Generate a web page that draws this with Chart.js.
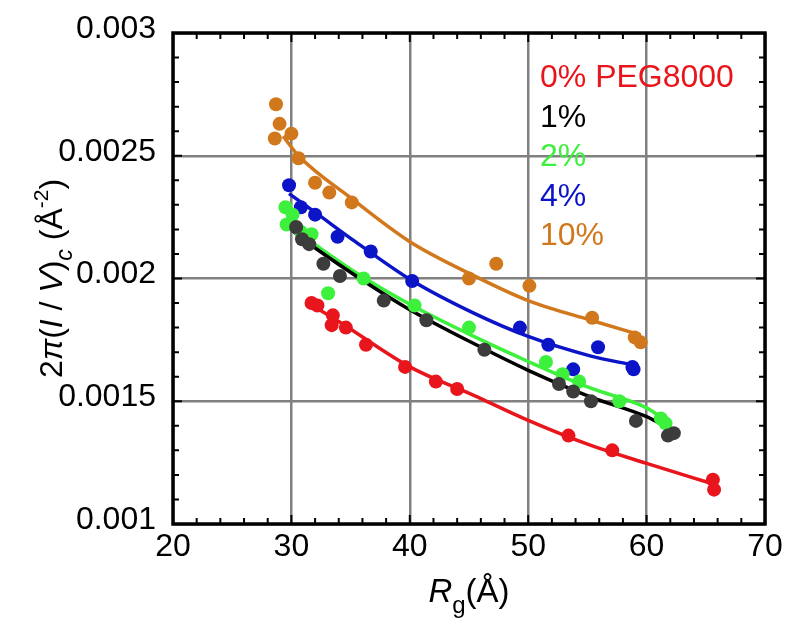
<!DOCTYPE html>
<html>
<head>
<meta charset="utf-8">
<script src="https://cdn.jsdelivr.net/npm/chart.js@4"></script>
<style>
  html, body { margin: 0; padding: 0; background: #fff; }
  #wrap { width: 800px; height: 641px; position: relative; }
</style>
</head>
<body>
<div id="wrap"><canvas id="chart"></canvas></div>
<script>
// Pontos medidos (Rg em Å, 2π(I/V)c em Å^-2)
const rg0 = [31.7, 32.2, 33.5, 33.4, 34.6, 36.3, 39.6, 42.2, 44.0, 53.4, 57.1, 65.6, 65.7];
const val0 = [0.00190, 0.00189, 0.00185, 0.00181, 0.00180, 0.00173, 0.00164, 0.00158, 0.00155, 0.00136, 0.00130, 0.00118, 0.00114];
const rg1 = [30.4, 30.9, 31.5, 32.7, 34.1, 37.8, 41.4, 46.3, 52.6, 53.8, 55.3, 59.1, 61.8, 62.3];
const val1 = [0.00221, 0.00216, 0.00214, 0.00206, 0.00201, 0.00191, 0.00183, 0.00171, 0.00157, 0.00154, 0.00150, 0.00142, 0.00136, 0.00137];
const rg2 = [29.5, 29.6, 30.1, 30.8, 31.7, 33.1, 36.1, 40.4, 45.0, 51.5, 52.9, 54.3, 57.7, 61.2, 61.6];
const val2 = [0.00229, 0.00222, 0.00226, 0.00219, 0.00218, 0.00194, 0.00200, 0.00189, 0.00180, 0.00166, 0.00161, 0.00158, 0.00150, 0.00143, 0.00141];
const rg4 = [29.8, 30.8, 32.0, 33.9, 36.7, 40.2, 49.3, 51.7, 55.9, 53.8, 58.8, 58.9];
const val4 = [0.00238, 0.00229, 0.00226, 0.00217, 0.00211, 0.00199, 0.00180, 0.00173, 0.00172, 0.00163, 0.00164, 0.00163];
const rg10 = [28.7, 29.0, 28.6, 30.0, 30.6, 32.0, 33.2, 35.1, 45.0, 47.3, 50.1, 55.4, 59.0, 59.5];
const val10 = [0.00271, 0.00263, 0.00257, 0.00259, 0.00249, 0.00239, 0.00235, 0.00231, 0.00200, 0.00206, 0.00197, 0.00184, 0.00176, 0.00174];

// Curvas ajustadas
const fitRg0 = [31.6, 34.1, 40.0, 45.4, 50.0, 55.3, 60.0, 65.5];
const fitVal0 = [0.001895, 0.001822, 0.001640, 0.001524, 0.001422, 0.001320, 0.001247, 0.001165];
const fitRg1 = [30.1, 32.1, 36.1, 40.0, 45.4, 50.0, 55.3, 60.0, 62.0];
const fitVal1 = [0.002194, 0.002121, 0.001990, 0.001873, 0.001735, 0.001626, 0.001517, 0.001437, 0.001386];
const fitRg2 = [30.1, 32.1, 36.1, 40.0, 45.4, 50.0, 55.3, 60.0, 62.0];
const fitVal2 = [0.002208, 0.002135, 0.002004, 0.001895, 0.001764, 0.001662, 0.001553, 0.001473, 0.001408];
const fitRg4 = [29.8, 32.1, 35.4, 40.0, 45.4, 50.0, 55.3, 58.8];
const fitVal4 = [0.002346, 0.002266, 0.002150, 0.001997, 0.001859, 0.001764, 0.001684, 0.001648];
const fitRg10 = [29.3, 30.6, 35.1, 40.0, 45.4, 50.0, 55.3, 59.5];
const fitVal10 = [0.002580, 0.002500, 0.002325, 0.002150, 0.002012, 0.001910, 0.001830, 0.001770];

const xTicks = [20, 30, 40, 50, 60, 70];
const yTicks = [0.001, 0.0015, 0.002, 0.0025, 0.003];
const yTickLabels = ['0.001', '0.0015', '0.002', '0.0025', '0.003'];

const seriesNames = ['0% PEG8000', '1%', '2%', '4%', '10%'];
const lineColors = ['#e8161c', '#000000', '#3cf03c', '#0c14c8', '#d2781c'];
const pointColors = ['#e8161c', '#3c3c3c', '#3cf03c', '#0c14c8', '#d2781c'];

const pts = (xs, ys) => xs.map((x, i) => ({ x: x, y: ys[i] }));

const rawSets = [[rg0, val0, fitRg0, fitVal0], [rg1, val1, fitRg1, fitVal1], [rg2, val2, fitRg2, fitVal2],
                 [rg4, val4, fitRg4, fitVal4], [rg10, val10, fitRg10, fitVal10]];

const datasets = [];
rawSets.forEach((s, i) => {
    datasets.push({
        label: seriesNames[i] + ' fit',
        data: pts(s[2], s[3]),
        showLine: true,
        borderColor: lineColors[i],
        borderWidth: 3.5,
        pointRadius: 0,
        cubicInterpolationMode: 'monotone',
        order: 2
    });
    datasets.push({
        label: seriesNames[i],
        data: pts(s[0], s[1]),
        showLine: false,
        backgroundColor: pointColors[i],
        borderWidth: 0,
        pointRadius: 7,
        order: 1
    });
});

const FONT = '"Liberation Sans", Arial, sans-serif';

// Desenha moldura, ticks internos, títulos dos eixos e legenda em texto colorido
const decorPlugin = {
    id: 'decor',
    afterDraw(chart) {
        const ctx = chart.ctx;
        const a = chart.chartArea;
        const xs = chart.scales.x, ys = chart.scales.y;
        ctx.save();
        ctx.strokeStyle = '#000';
        ctx.lineWidth = 2;
        // ticks menores e maiores nos quatro lados
        ctx.beginPath();
        for (let v = 20; v <= 70; v += 2) {
            const px = xs.getPixelForValue(v);
            const len = (v % 10 === 0) ? 9 : 6;
            ctx.moveTo(px, a.bottom); ctx.lineTo(px, a.bottom - len);
            ctx.moveTo(px, a.top); ctx.lineTo(px, a.top + len);
        }
        for (let k = 10; k <= 30; k++) {
            const py = ys.getPixelForValue(k / 10000);
            const len = (k % 5 === 0) ? 9 : 6;
            ctx.moveTo(a.left, py); ctx.lineTo(a.left + len, py);
            ctx.moveTo(a.right, py); ctx.lineTo(a.right - len, py);
        }
        ctx.stroke();
        // moldura
        ctx.lineWidth = 3.5;
        ctx.strokeRect(a.left, a.top, a.right - a.left, a.bottom - a.top);

        const font = (sz, it) => (it ? 'italic ' : '') + sz + 'px ' + FONT;
        function drawParts(parts, x, y, align) {
            let total = 0;
            parts.forEach(p => { ctx.font = font(p.s, p.i); total += ctx.measureText(p.t).width; });
            let cx = align === 'center' ? x - total / 2 : x;
            parts.forEach(p => {
                ctx.font = font(p.s, p.i);
                ctx.fillText(p.t, cx, y + (p.dy || 0));
                cx += ctx.measureText(p.t).width;
            });
        }
        ctx.fillStyle = '#000';
        ctx.textBaseline = 'alphabetic';
        ctx.textAlign = 'left';
        // título do eixo x
        drawParts([
            { t: 'R', s: 33, i: true },
            { t: 'g', s: 24, dy: 11 },
            { t: '(Å)', s: 33 }
        ], (a.left + a.right) / 2, 602, 'center');
        // título do eixo y
        ctx.save();
        ctx.translate(62, (a.top + a.bottom) / 2);
        ctx.rotate(-Math.PI / 2);
        drawParts([
            { t: '2', s: 32 },
            { t: 'π', s: 32, i: true },
            { t: '(', s: 32 },
            { t: 'I', s: 32, i: true },
            { t: ' / ', s: 32 },
            { t: 'V', s: 32, i: true },
            { t: ')', s: 32 },
            { t: 'c', s: 23, i: true, dy: 10 },
            { t: ' (Å', s: 32 },
            { t: '-2', s: 21, dy: -14 },
            { t: ')', s: 32 }
        ], 0, 0, 'center');
        ctx.restore();
        // legenda
        ctx.font = font(32, false);
        seriesNames.forEach((name, i) => {
            ctx.fillStyle = lineColors[i];
            ctx.fillText(name, 540, 87 + i * 39.5);
        });
        ctx.restore();
    }
};

new Chart(document.getElementById('chart'), {
    type: 'scatter',
    data: { datasets: datasets },
    options: {
        responsive: true,
        maintainAspectRatio: false,
        animation: false,
        layout: { padding: { top: 33, right: 35, left: 0, bottom: 0 } },
        plugins: { legend: { display: false }, tooltip: { enabled: false } },
        scales: {
            x: {
                type: 'linear',
                min: 20, max: 70,
                afterBuildTicks: s => { s.ticks = xTicks.map(v => ({ value: v })); },
                afterFit: s => { s.height = 117; s.paddingLeft = 0; s.paddingRight = 0; },
                grid: { color: '#808080', lineWidth: 2.5, drawTicks: false },
                border: { display: false },
                ticks: { color: '#000', padding: 4, font: { size: 32, family: FONT } }
            },
            y: {
                type: 'linear',
                min: 0.001, max: 0.003,
                afterBuildTicks: s => { s.ticks = yTicks.map(v => ({ value: v })); },
                afterFit: s => { s.width = 173; s.paddingTop = 0; s.paddingBottom = 0; },
                grid: { color: '#808080', lineWidth: 2.5, drawTicks: false },
                border: { display: false },
                ticks: {
                    color: '#000', padding: 17, labelOffset: -4,
                    font: { size: 32, family: FONT },
                    callback: (v) => yTickLabels[yTicks.indexOf(v)]
                }
            }
        }
    },
    plugins: [decorPlugin]
});
</script>
</body>
</html>
